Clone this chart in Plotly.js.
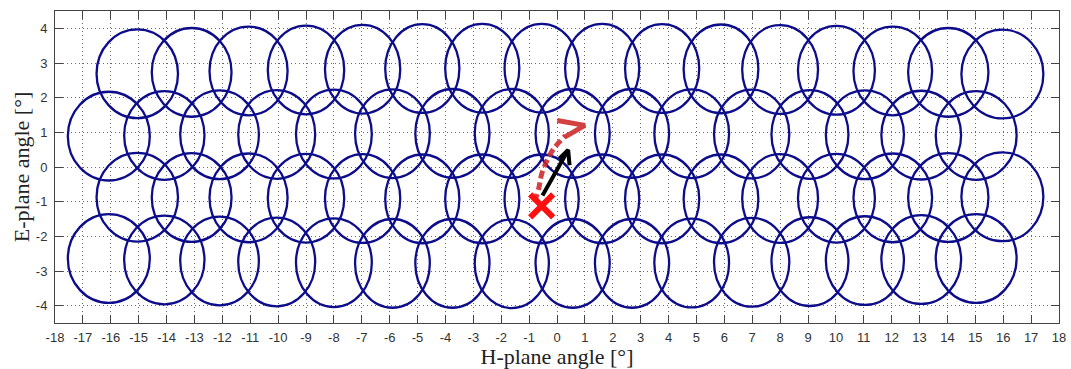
<!DOCTYPE html>
<html>
<head>
<meta charset="utf-8">
<script src="https://cdn.plot.ly/plotly-3.0.1.min.js"></script>
<style>html,body{margin:0;padding:0;background:#fff;}#chart{width:1071px;height:369px;}</style>
</head>
<body>
<div id="chart"></div>
<script>
// Beam centres (degrees). Rows 1 and 3 share x, rows 2 and 4 share x.
var rowOddX  = [-15.05,-13.10,-11.06,-9.00,-6.97,-4.83,-2.68,-0.55,1.62,3.77,5.88,8.00,10.02,12.04,14.03,15.97];
var rowEvenX = [-16.07,-14.08,-12.10,-10.05,-8.00,-5.90,-3.75,-1.62,0.56,2.69,4.83,6.98,9.07,11.04,13.06,15.03];
var row1Y = [2.69,2.73,2.77,2.80,2.82,2.84,2.85,2.85,2.85,2.84,2.83,2.81,2.79,2.77,2.73,2.68];
var row2Y = [0.89,0.91,0.93,0.94,0.95,0.96,0.97,0.97,0.97,0.97,0.96,0.95,0.94,0.93,0.92,0.91];
var row3Y = [-0.87,-0.88,-0.89,-0.90,-0.91,-0.92,-0.92,-0.92,-0.92,-0.92,-0.92,-0.91,-0.90,-0.89,-0.88,-0.86];
var row4Y = [-2.64,-2.68,-2.71,-2.74,-2.76,-2.78,-2.78,-2.79,-2.78,-2.78,-2.77,-2.75,-2.73,-2.70,-2.67,-2.64];
// Beam half-widths (degrees)
var rowOddHalfH  = [1.46,1.43,1.40,1.37,1.35,1.33,1.33,1.33,1.33,1.33,1.34,1.36,1.38,1.41,1.44,1.47];
var rowEvenHalfH = [1.47,1.44,1.41,1.38,1.36,1.34,1.33,1.33,1.33,1.33,1.34,1.35,1.38,1.40,1.43,1.45];
var beamHalfE = 1.28;

// Paths (degrees)
var startX = [-0.55], startY = [-1.12];
var redPathX = [-0.80,-0.65,-0.55,-0.35,-0.10,0.30];
var redPathY = [-1.00,-0.60,-0.20,0.20,0.55,0.90];
var redHeadX = [0.01,1.00,0.29];
var redHeadY = [1.34,1.20,0.87];
var blackShaftX = [-0.52,0.40];
var blackShaftY = [-0.82,0.49];
var blackHeadX = [0.08,0.40,0.45];
var blackHeadY = [0.24,0.49,0.05];

var xTicks = [], yTicks = [];
for (var t = -18; t <= 18; t++) xTicks.push(t);
for (var u = -4; u <= 4; u++) yTicks.push(u);

var beamColor = '#0d0d8c';
var shapes = [];
function addRow(xs, ys, hs) {
  for (var i = 0; i < xs.length; i++) {
    shapes.push({
      type: 'circle', xref: 'x', yref: 'y', layer: 'between',
      x0: xs[i] - hs[i], x1: xs[i] + hs[i],
      y0: ys[i] - beamHalfE, y1: ys[i] + beamHalfE,
      line: {color: beamColor, width: 2.3}
    });
  }
}
addRow(rowOddX, row1Y, rowOddHalfH);
addRow(rowEvenX, row2Y, rowEvenHalfH);
addRow(rowOddX, row3Y, rowOddHalfH);
addRow(rowEvenX, row4Y, rowEvenHalfH);

var traces = [
  {x: redPathX, y: redPathY, mode: 'lines', type: 'scatter', hoverinfo: 'skip',
   line: {color: 'rgba(205,40,40,0.88)', width: 5, dash: '8px,4px', shape: 'spline'}},
  {x: redHeadX, y: redHeadY, mode: 'lines', type: 'scatter', hoverinfo: 'skip',
   line: {color: 'rgba(205,40,40,0.88)', width: 5}},
  {x: blackShaftX, y: blackShaftY, mode: 'lines', type: 'scatter', hoverinfo: 'skip',
   line: {color: '#000', width: 4}},
  {x: blackHeadX, y: blackHeadY, mode: 'lines', type: 'scatter', hoverinfo: 'skip',
   line: {color: '#000', width: 4}},
  {x: startX, y: startY, mode: 'markers', type: 'scatter', hoverinfo: 'skip',
   marker: {symbol: 'x-thin', size: 23, line: {color: '#ff1010', width: 6}, color: '#ff1010'}}
];

var axisCommon = {
  showgrid: true, griddash: '1px,3px', gridcolor: 'rgba(80,80,80,0.85)', gridwidth: 1,
  zeroline: false, showline: true, mirror: 'allticks', linecolor: '#444', linewidth: 1,
  ticks: 'inside', ticklen: 8, tickcolor: '#444', tickwidth: 1,
  tickfont: {family: 'Liberation Sans, Arial, sans-serif', size: 13, color: '#333'}
};

var layout = {
  width: 1071, height: 369,
  margin: {l: 55, r: 12, t: 11, b: 46},
  paper_bgcolor: '#fff', plot_bgcolor: '#fff',
  showlegend: false,
  shapes: shapes,
  xaxis: Object.assign({}, axisCommon, {
    range: [-18, 18], tickmode: 'array', tickvals: xTicks, ticktext: xTicks.map(String),
    ticklabelstandoff: 2,
    title: {text: 'H-plane angle [°]', standoff: 3,
            font: {family: 'Liberation Serif, Times New Roman, serif', size: 22, color: '#222'}}
  }),
  yaxis: Object.assign({}, axisCommon, {
    range: [-4.5, 4.5], tickmode: 'array', tickvals: yTicks, ticktext: yTicks.map(String),
    ticklabelstandoff: 4,
    title: {text: 'E-plane angle [°]', standoff: 0,
            font: {family: 'Liberation Serif, Times New Roman, serif', size: 22, color: '#222'}}
  })
};

Plotly.newPlot('chart', traces, layout, {staticPlot: true, displayModeBar: false});
</script>
</body>
</html>
